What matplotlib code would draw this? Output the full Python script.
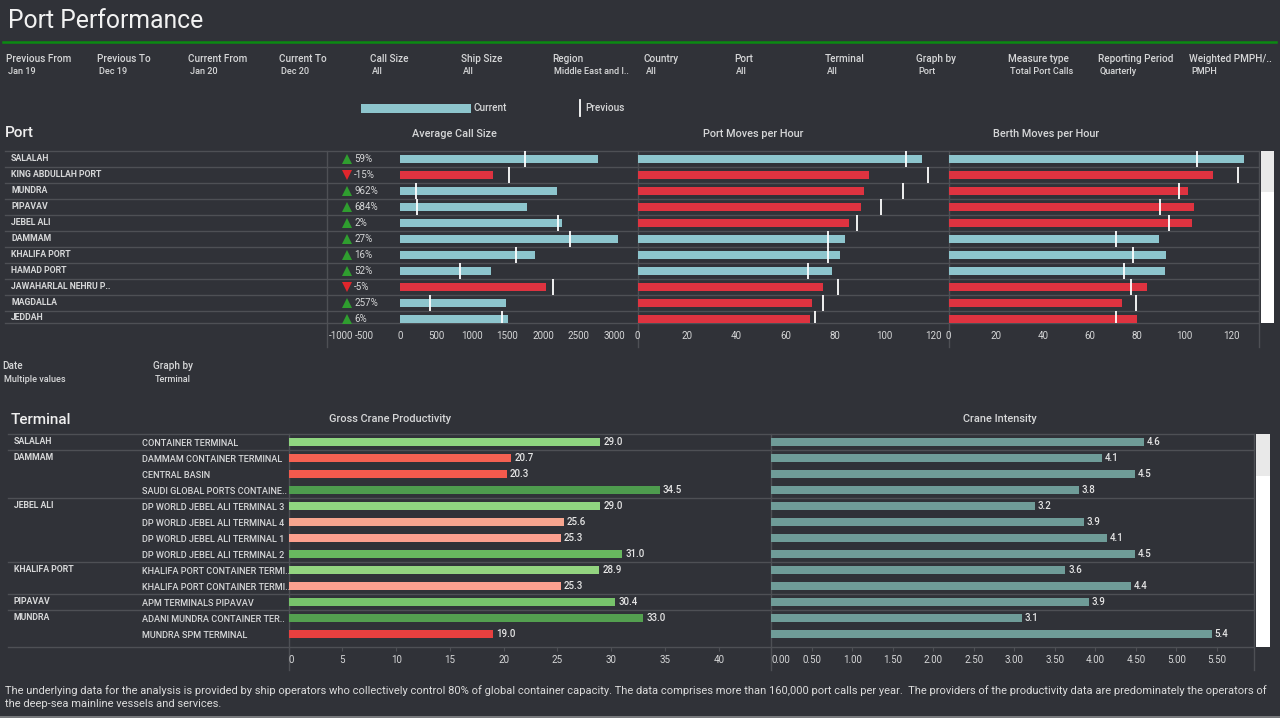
"""Port Performance dashboard, dark theme; saves out.png."""

import matplotlib
matplotlib.use("Agg")
import matplotlib.pyplot as plt
from matplotlib.colors import LinearSegmentedColormap, Normalize

W, H = 1280, 718
BG = "#303238"
GRID = "#4e5055"
TEXT = "#d6d7d8"
TEAL = "#8dc5cd"
RED = "#de3340"
UP_GREEN = "#2f9e2f"
DOWN_RED = "#e0262c"
CRANE = "#6f9c98"
FONT = ["Roboto", "DejaVu Sans"]

FILTER_NAMES = ["Previous From", "Previous To", "Current From", "Current To", "Call Size",
                "Ship Size", "Region", "Country", "Port", "Terminal", "Graph by",
                "Measure type", "Reporting Period", "Weighted PMPH/.."]
FILTER_VALUES = ["Jan 19", "Dec 19", "Jan 20", "Dec 20", "All", "All", "Middle East and I..",
                 "All", "All", "All", "Port", "Total Port Calls", "Quarterly", "PMPH"]
FILTER_X = [6, 97, 188, 279, 370, 461, 552, 644, 734, 825, 916, 1008, 1098, 1189]

PORTS = ["SALALAH", "KING ABDULLAH PORT", "MUNDRA", "PIPAVAV", "JEBEL ALI", "DAMMAM",
         "KHALIFA PORT", "HAMAD PORT", "JAWAHARLAL NEHRU P..", "MAGDALLA", "JEDDAH"]
CHANGE_PCT = [59, -15, 962, 684, 2, 27, 16, 52, -5, 257, 6]
CALL_SIZE = [2770, 1305, 2190, 1780, 2265, 3045, 1883, 1276, 2038, 1488, 1511]
CALL_SIZE_PREV = [1746, 1528, 217, 229, 2215, 2382, 1620, 836, 2135, 412, 1431]
PORT_MPH = [115.3, 94, 92, 90.6, 85.9, 84.3, 82.2, 78.8, 75.3, 70.9, 69.9]
PORT_MPH_PREV = [108.8, 117.8, 107.7, 98.8, 89, 77.1, 77.4, 69, 81.3, 75.1, 71.9]
BERTH_MPH = [125.3, 112.3, 101.6, 104, 103.3, 89.3, 92.1, 91.7, 84.2, 73.6, 80]
BERTH_MPH_PREV = [105.4, 122.8, 97.7, 89.8, 93.5, 71.2, 78.2, 74.2, 77.5, 79.3, 71.2]

GROUPS = ["SALALAH", "DAMMAM", "JEBEL ALI", "KHALIFA PORT", "PIPAVAV", "MUNDRA"]
GROUP_SIZES = [1, 3, 4, 2, 1, 2]
TERMINALS = ["CONTAINER TERMINAL", "DAMMAM CONTAINER TERMINAL", "CENTRAL BASIN",
             "SAUDI GLOBAL PORTS CONTAINE..", "DP WORLD JEBEL ALI TERMINAL 3",
             "DP WORLD JEBEL ALI TERMINAL 4", "DP WORLD JEBEL ALI TERMINAL 1",
             "DP WORLD JEBEL ALI TERMINAL 2", "KHALIFA PORT CONTAINER TERMI..",
             "KHALIFA PORT CONTAINER TERMI..", "APM TERMINALS PIPAVAV",
             "ADANI MUNDRA CONTAINER TER..", "MUNDRA SPM TERMINAL"]
CRANE_PROD = [29.0, 20.7, 20.3, 34.5, 29.0, 25.6, 25.3, 31.0, 28.9, 25.3, 30.4, 33.0, 19.0]
CRANE_INT = [4.6, 4.08, 4.49, 3.8, 3.25, 3.86, 4.14, 4.49, 3.63, 4.44, 3.92, 3.09, 5.44]

CALL_TICKS = [-1000, -500, 0, 500, 1000, 1500, 2000, 2500, 3000]
MPH_TICKS = [0, 20, 40, 60, 80, 100, 120]
PROD_TICKS = [0, 5, 10, 15, 20, 25, 30, 35, 40]
INT_TICKS = [0, 0.5, 1, 1.5, 2, 2.5, 3, 3.5, 4, 4.5, 5, 5.5]

FOOTER = ["The underlying data for the analysis is provided by ship operators who collectively "
          "control 80% of global container capacity. The data comprises more than 160,000 port "
          "calls per year.  The providers of the productivity data are predominately the operators of",
          "the deep-sea mainline vessels and services."]

plt.rcParams["font.family"] = FONT
fig = plt.figure(figsize=(W / 100, H / 100), dpi=100, facecolor=BG)

# overlay in pixel coordinates for the text and rules around the charts
bg = fig.add_axes([0, 0, 1, 1])
bg.set_xlim(0, W); bg.set_ylim(H, 0); bg.axis("off")


def label(x, y, s, size=6.8, color=TEXT, weight="medium", ha="left"):
    bg.text(x, y + 1, s, fontsize=size, color=color, fontweight=weight, ha=ha, va="center")


def panel(x0, x1, y0, y1, xlim, ylim, tick_len=0, pad=6):
    ax = fig.add_axes([x0 / W, 1 - y1 / H, (x1 - x0) / W, (y1 - y0) / H])
    ax.patch.set_alpha(0)
    ax.set_xlim(*xlim); ax.set_ylim(*ylim)
    ax.set_yticks([])
    for s in ax.spines.values():
        s.set_visible(False)
    ax.tick_params(axis="x", length=tick_len, color=GRID, pad=pad, labelsize=7, labelcolor=TEXT)
    return ax


def bullet(ax, cur, prev, up):
    colors = [TEAL if u else RED for u in up]
    rows = range(len(cur))
    ax.barh(rows, cur, height=0.56, color=colors)
    ax.vlines(prev, [r - 0.47 for r in rows], [r + 0.47 for r in rows], color="white", lw=1.3)


# header
label(8, 20, "Port Performance", size=17.8, color="#f2f2f2", weight="normal")
bg.plot([3, 1276], [42, 42], color="#0b8a12", lw=1.8)
for x, n, v in zip(FILTER_X, FILTER_NAMES, FILTER_VALUES):
    label(x, 57.5, n, size=7.2)
    label(x + 2, 70.5, v, size=6.6)

# legend
bg.fill_between([361, 471], 104, 113, color=TEAL, lw=0)
label(474, 107, "Current", size=7.2)
bg.plot([580, 580], [100, 116], color="white", lw=1.3)
label(585, 107, "Previous", size=7.2)

# port section
label(5, 132, "Port", size=11, color="#eeeeee")
label(454, 133, "Average Call Size", size=7.8, ha="center")
label(753, 133, "Port Moves per Hour", size=7.8, ha="center")
label(1046, 133, "Berth Moves per Hour", size=7.8, ha="center")

PORT_TOP, PORT_BOT = 151, 323
for i in range(len(PORTS) + 1):
    y = min(PORT_TOP + i * 16, PORT_BOT)
    bg.plot([5, 1258], [y, y], color=GRID, lw=1)
for x in [327, 637.5, 948.5, 1258.5]:
    bg.plot([x, x], [PORT_TOP, 347], color=GRID, lw=1)
for i, p in enumerate(PORTS):
    y = PORT_TOP + 6.5 + i * 16 if i < 10 else 316
    label(11, y, p, size=6.35, weight="bold")

port_ylim = (10.25, -0.5)
port_up = [c >= p for c, p in zip(PORT_MPH, PORT_MPH_PREV)]
ax_call = panel(327, 637.5, PORT_TOP, PORT_BOT, (-1029, 3325), port_ylim)
bullet(ax_call, CALL_SIZE, CALL_SIZE_PREV, [c >= 0 for c in CHANGE_PCT])
for i, c in enumerate(CHANGE_PCT):
    ax_call.plot(-750, i, "^" if c >= 0 else "v", ms=6.5, mew=0,
                 color=UP_GREEN if c >= 0 else DOWN_RED)
    ax_call.text(-650, i + 0.03, f"{c}%", fontsize=7, color=TEXT, va="center")
ax_call.set_xticks(CALL_TICKS, [str(t) for t in CALL_TICKS])
ax_call.get_xticklabels()[0].set_ha("left")

ax_port = panel(637.5, 948.5, PORT_TOP, PORT_BOT, (0, 126.2), port_ylim)
bullet(ax_port, PORT_MPH, PORT_MPH_PREV, port_up)
ax_port.set_xticks(MPH_TICKS, [str(t) for t in MPH_TICKS])

# berth bars take their colour from the port moves comparison
ax_berth = panel(948.5, 1258.5, PORT_TOP, PORT_BOT, (0, 131.4), port_ylim)
bullet(ax_berth, BERTH_MPH, BERTH_MPH_PREV, port_up)
ax_berth.set_xticks(MPH_TICKS, [str(t) for t in MPH_TICKS])

# scrollbars
bg.fill_between([1261, 1274], 151, 323, color="white", lw=0)
bg.fill_between([1261, 1274], 151, 192, color="#e9e9e9", lw=0)
bg.fill_between([1256, 1270], 434, 647, color="white", lw=0)
bg.fill_between([1256, 1270], 434, 476, color="#e9e9e9", lw=0)

# parameter captions between the sections
label(2, 365, "Date", size=7.2)
label(4, 378, "Multiple values", size=6.6)
label(153, 365, "Graph by", size=7.2)
label(155, 378, "Terminal", size=6.6)

# terminal section
label(11, 419, "Terminal", size=11, color="#eeeeee")
label(390, 418, "Gross Crane Productivity", size=7.9, ha="center")
label(1000, 418, "Crane Intensity", size=7.9, ha="center")

TERM_TOP, TERM_BOT = 434, 647
row = 0
seps = [TERM_TOP]
for g, n in zip(GROUPS, GROUP_SIZES):
    label(14, TERM_TOP + 7 + row * 16, g, size=6.35, weight="bold")
    row += n
    seps.append(TERM_TOP + row * 16)
seps[-1] = TERM_BOT
for y in seps:
    bg.plot([8, 1254], [y, y], color=GRID, lw=1)
for x in [288.6, 771.4, 1254]:
    bg.plot([x, x], [TERM_TOP, 670], color=GRID, lw=1)
for i, t in enumerate(TERMINALS):
    label(142, TERM_TOP + 8.5 + i * 16, t, size=6.55)

term_ylim = (12.8, -0.5)
prod_cmap = LinearSegmentedColormap.from_list("prod", [
    (0.0, "#e8403f"), (0.1, "#f55f50"), (0.415, "#fca290"),
    (0.645, "#90d580"), (0.735, "#78c46c"), (0.775, "#68b85f"),
    (0.9, "#54a050"), (1.0, "#4e9c4e")])
prod_norm = Normalize(19, 34.5)

ax_prod = panel(288.6, 771.4, TERM_TOP, TERM_BOT, (0, 44.9), term_ylim, tick_len=3, pad=3)
ax_prod.barh(range(len(CRANE_PROD)), CRANE_PROD, height=0.52,
             color=[prod_cmap(prod_norm(v)) for v in CRANE_PROD])
for i, v in enumerate(CRANE_PROD):
    ax_prod.text(v + 0.3, i, f"{v:.1f}", fontsize=7, color="#e6e6e6", va="center", fontweight="medium")
ax_prod.set_xticks(PROD_TICKS, [str(t) for t in PROD_TICKS])
ax_prod.get_xticklabels()[0].set_ha("left")

ax_int = panel(771.4, 1254, TERM_TOP, TERM_BOT, (0, 5.96), term_ylim, tick_len=3, pad=3)
ax_int.barh(range(len(CRANE_INT)), CRANE_INT, height=0.52, color=CRANE)
for i, v in enumerate(CRANE_INT):
    ax_int.text(v + 0.035, i, f"{v:.1f}", fontsize=7, color="#e6e6e6", va="center", fontweight="medium")
ax_int.set_xticks(INT_TICKS, [f"{t:.2f}" for t in INT_TICKS])
ax_int.get_xticklabels()[0].set_ha("left")

# footer
label(5, 690, FOOTER[0], size=8.04, color="#dcdcdc", weight="normal")
label(5, 703, FOOTER[1], size=8.04, color="#dcdcdc", weight="normal")

# light strip along the bottom edge
bg.fill_between([0, W], 715.5, 718, color="#77797c", lw=0)

fig.savefig("out.png", dpi=100, facecolor=BG)
